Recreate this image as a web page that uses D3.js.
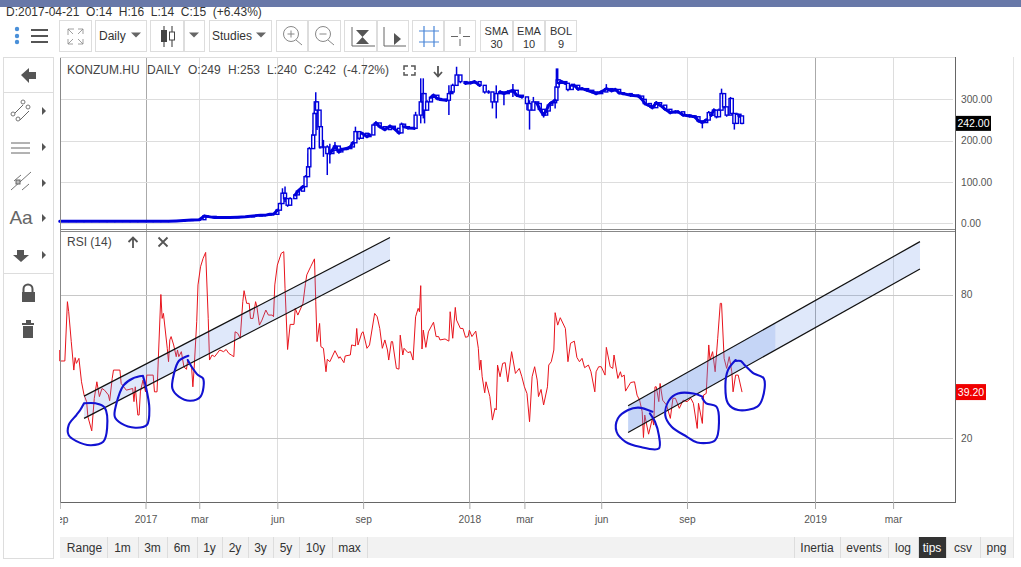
<!DOCTYPE html>
<html><head><meta charset="utf-8">
<script src="https://cdn.jsdelivr.net/npm/d3@7"></script>
<style>
html,body{margin:0;padding:0;background:#fff;overflow:hidden}
svg{display:block}
text{font-family:"Liberation Sans",Arial,sans-serif}
</style></head><body>
<svg id="c" width="1021" height="567"></svg>
<script>
// ---------- data ----------
const priceTicks=[0,100,200,300];
const rsiTicks=[20,80];
const tickSessions=[-67,0,42,103,170,253,296,356,423,523,584];
const tickLabels=["sep","2017","mar","jun","sep","2018","mar","jun","sep","2019","mar"];
const yearLabels=["2017","2018","2019"];
const priceSessions=[-67,-60,-54,-48,-42,-36,-30,-24,-18,-12,
-6,0,6,12,18,24,30,36,42,46,
48,54,60,66,72,78,84,90,94,97,
100,103,105,107,109,111,113,117,119,123,
125,127,128,131,132,133,134,136,137,139,
142,144,146,148,151,153,157,160,162,164,
167,169,173,175,178,180,183,187,191,194,
198,200,202,205,210,211,215,217,218,220,
223,225,228,230,235,237,239,240,243,246,
250,254,257,261,265,268,271,274,277,280,
283,287,290,294,298,300,303,306,308,311,
313,315,317,320,321,322,323,325,328,330,
333,335,338,341,345,349,352,356,360,364,
367,370,373,379,385,388,390,394,396,399,
402,406,410,414,416,420,425,429,432,435,
438,440,442,444,446,448,450,452,454,457,
458,460,462,464,466];
const priceClose=[5,5,5,5,5,5,5,5,5,5,
5,5,5,5,5,6,7,8,9,18,
17,14,14,14,15,16,18,20,20,22,
22,32,48,73,60,44,60,69,78,89,
113,137,181,214,266,294,274,234,185,185,
169,169,177,187,173,179,181,185,195,222,
206,218,210,214,238,243,234,227,235,230,
219,240,234,231,230,262,294,314,274,294,
305,310,302,300,298,314,318,334,359,343,
339,340,343,334,318,318,294,314,318,314,
318,322,310,306,290,274,294,290,276,262,
272,286,292,298,330,347,339,343,339,324,
334,334,325,326,322,318,314,318,326,321,
324,316,314,310,308,300,290,284,280,292,
286,276,268,270,270,262,260,258,248,244,
250,268,262,274,258,274,314,282,262,302,
266,242,264,260,242];
const priceHigh=[7,7,7,7,7,7,7,7,7,7,
7,7,7,7,7,8,9,10,11,21,
19,16,16,16,17,18,20,22,22,24,
24,34,50,85,89,52,63,72,81,92,
117,169,185,226,270,317,294,258,234,202,
189,193,181,197,177,183,185,189,199,234,
210,222,214,218,242,247,238,231,239,234,
223,244,238,235,234,270,351,351,302,298,
309,314,306,304,302,334,322,338,379,347,
343,344,347,338,322,322,298,334,322,318,
322,337,314,310,298,298,306,294,280,270,
276,290,296,302,375,375,343,347,343,328,
338,338,329,330,326,322,318,322,337,325,
328,320,318,314,312,304,294,288,284,296,
290,280,272,274,274,266,264,262,252,248,
254,272,266,278,262,278,326,286,266,306,
270,246,268,264,253];
const priceLow=[3,3,3,3,3,3,3,3,3,3,
3,3,3,3,3,4,5,6,7,13,
13,12,12,12,13,14,16,18,18,20,
20,30,46,64,52,40,57,66,75,86,
93,125,173,193,250,230,226,181,181,161,
117,145,173,177,169,175,177,181,191,206,
202,214,206,210,222,239,230,223,231,226,
215,236,230,227,226,234,242,254,242,290,
301,306,298,296,294,262,314,330,343,339,
335,336,339,330,314,314,278,254,314,286,
314,306,306,302,274,227,282,286,272,256,
268,282,288,278,326,326,335,339,335,320,
330,330,321,322,318,314,310,314,318,317,
320,312,310,306,304,296,286,280,276,288,
282,272,264,266,266,258,256,254,244,230,
246,264,258,270,254,270,286,278,258,274,
262,227,260,256,240];
const rsiSessions=[-67,-67,-63,-61,-60,-58,-56,-55,-54,-52,-50,-48,-46,-45,-42,-40,-38,-36,-34,-32,
-29,-28,-26,-25,-20,-19,-15,-10,-9,-8,-6,-5,-4,-2,0,1,6,7,9,12,
13,14,17,18,19,20,22,24,25,26,28,30,32,33,36,37,38,40,41,43,
45,47,49,50,52,54,58,61,63,65,67,69,70,72,74,76,77,79,81,82,
84,86,87,89,91,94,96,99,100,101,103,106,108,109,111,113,116,117,119,123,
125,126,129,132,133,134,136,137,139,141,142,144,148,151,152,155,156,160,161,164,
165,166,169,170,173,175,179,181,183,185,187,189,190,192,193,196,198,199,201,202,
205,207,209,211,213,214,215,216,217,219,221,225,227,229,230,234,237,238,240,242,
243,246,248,250,252,253,255,258,260,261,262,263,265,266,269,271,273,274,275,277,
279,281,283,286,289,290,292,294,296,298,300,302,304,306,307,309,311,314,315,317,
319,320,322,324,328,330,332,335,337,339,341,343,346,348,351,352,354,356,359,360,
363,365,366,369,371,372,374,375,379,382,384,386,388,389,390,393,396,397,398,399,
401,402,404,407,410,412,414,417,420,423,426,428,431,432,435,436,438,440,441,443,
445,447,449,450,452,454,456,458,459,461,463,466];
const rsiValues=[56.8,52.2,52.2,77,72.8,60.3,48.4,53.6,51.2,53.3,43.5,38,35.2,28.9,23,36.6,43.5,37.3,40.7,40,
38,35.6,44.9,48.4,48.4,42.8,40,40.7,35.2,41.4,29.6,29.6,39.3,44.2,39.3,46.3,46.3,39.3,39.3,80,
70,72.1,57.5,51.9,61,62.4,58.9,54,56.8,54,56.1,49.8,48.7,52.6,49.8,41.4,49.1,68.6,84,91.6,
95.1,97.6,70,52.6,54.7,54,56.8,56.1,57,55.4,54.7,54,64.4,63.8,61.7,77,81.6,76.3,76.3,70,
70,77,74.9,67.2,69.3,73.5,71.4,71.4,70.7,84,92.3,97.2,97.9,82.6,57,67.5,67.5,74.2,71.4,76.3,
84.7,88.2,91.6,94.9,77,60.3,67.9,58.2,57.5,47.7,52.9,51.9,56.5,53.3,54,51.5,54.3,54.7,58.9,58.5,
65.8,58.9,64,64.4,57.5,58.9,72.1,70.7,65.8,57.5,61,56.8,52.6,60.3,60.3,49.1,48.8,63,54.7,57.5,
55.7,56.1,52.6,70.7,74.2,72.8,83.7,57.2,65.1,57.9,64.4,68.4,62.4,62.4,61,61.4,60.5,72.8,61.7,74.6,
69.3,65.8,65.8,62.1,62.4,65.1,62.4,64.7,57.5,48.4,52.6,45.6,38.9,43.5,37.3,27.5,32.4,31.7,50.5,45.6,
51.2,51.5,43.5,56.1,47,47.7,49.1,45.6,41.4,38.6,26.8,45.6,49.8,44.2,37.3,40.3,33.8,41.4,50.5,51.9,
56.8,72.4,67.2,70.3,65.8,51.9,59.6,60.5,53.7,51.9,53.3,49.4,50.5,47.7,39.3,47.7,49.8,49.8,46.3,57.9,
49.8,49.1,54.7,44.9,47.7,45.6,46.3,39.6,43.2,43.5,37.9,35.8,31,20.2,29.6,21.6,28.2,25.4,41.4,41.4,
35.2,42.8,35.8,33.8,28.2,36.6,36.6,32.4,35.8,35.2,36.6,34.5,24,34.5,26.1,38,38.6,58.9,52.6,56.1,
47.7,61.7,76.3,76.3,53.3,49.1,54,47.7,39.3,46.3,46.3,39.2];
// trend channels [session, rsi]
const channelLeftUpper=[[-48,37.5],[191,103.8]];
const channelLeftLower=[[-48,28.2],[191,94.4]];
const channelRightUpper=[[377,33.5],[605,102.1]];
const channelRightLower=[[377,22.3],[605,90.7]];
const channelRightInner=[[377,33.5],[492,68.1],[492,56.8],[377,22.3]];
// hand drawn rings [session, rsi]
const ring1=[[-48,34.5],[-39,34.5],[-32,32.8],[-30,24],[-33,18.4],[-43,17],[-54,18.7],[-60,21.2],[-60,25.4],[-54,29.6],[-51,31.7],[-48,34.5]];
const ring2=[[-2,46],[-10,44.9],[-17,42.1],[-23,33.8],[-24,28.9],[-19,26.1],[-8,24.3],[1,25.4],[3,32.4],[0,42.1],[-2,46]];
const ring3=[[33.5,54.4],[26,52.2],[22,46.3],[21,40.7],[26,37.3],[35,35.6],[43,37.3],[45,44.9],[41,46.3],[36,49.8],[33,52.6]];
const ring4=[[396,31],[385,32.7],[377,31.7],[369,28.2],[368,22.6],[375,18.4],[386,16.3],[401,15.6],[401,21.2],[398,26.8],[394,30.3]];
const ring5=[[435,37.3],[428,38.6],[416,38.6],[409,35.8],[406,29.6],[411,24.7],[423,20.5],[431,18.1],[445,19.1],[448,26.8],[446,33.1],[438,34.5],[435,36.6]];
const ring6=[[461,52.6],[455,48.4],[453,42.1],[455,34.5],[463,31.7],[478,33.1],[482,36.6],[483,44.9],[475,47],[472,48.4],[468,50.5],[465,52.2],[461,52.2]];
const lastPrice=242, lastRsi=39.2;
const rangeLabels=["Range","1m","3m","6m","1y","2y","3y","5y","10y","max"];
const toolLabels=["Inertia","events","log","tips","csv","png"];
const titleParts=["KONZUM.HU","DAILY","O:249","H:253","L:240","C:242","(-4.72%)"];

// ---------- scales ----------
const svg=d3.select("#c");
const L=60,R=955,GREY="#555",BLUE="#0000dc";
const x=d3.scaleLinear().domain([0,523]).range([145.5,815]);
const yP=d3.scaleLinear().domain([0,300]).range([223.4,99.4]);
const yR=d3.scaleLinear().domain([20,80]).range([438,294.5]);

const defs=svg.append("defs");
defs.append("clipPath").attr("id","xclip").append("rect").attr("x",L).attr("y",500).attr("width",R-L).attr("height",40);

// ---------- page chrome ----------
svg.append("rect").attr("width",1021).attr("height",7).attr("fill","#6878a8");
svg.append("text").attr("x",6).attr("y",16).attr("font-size",12).attr("fill","#333").attr("xml:space","preserve")
  .text("D:2017-04-21  O:14  H:16  L:14  C:15  (+6.43%)");

const btn=(x0,x1,y0=20,y1=52)=>svg.append("rect").attr("x",x0+.5).attr("y",y0+.5).attr("width",x1-x0-1).attr("height",y1-y0-1).attr("fill","#fff").attr("stroke","#ddd");
[[59,92],[95,147],[150,184],[184,205],[209,272],[276,308],[308,341],[344,377],[377,409],[412,444],[444,476],[480,513],[513,545],[545,577]].forEach(b=>btn(b[0],b[1]));
const tri=(cx,cy,w=5,c="#666")=>svg.append("path").attr("d",`M${cx-w},${cy-2.5}h${2*w}l${-w},${w}z`).attr("fill",c);
const ui=(d,c="#555",w=1,f="none")=>svg.append("path").attr("d",d).attr("stroke",c).attr("stroke-width",w).attr("fill",f);
[29,36,42].forEach(cy=>svg.append("circle").attr("cx",17).attr("cy",cy).attr("r",2.2).attr("fill","#4a90d9"));
ui("M31,30h17M31,36h17M31,42h17","#555",2);
ui("M68,29l6,0M68,29l0,6M68,29l5,5 M83,29l-5,0M83,29l0,5M83,29l-5,5 M68,44l5,0M68,44l0,-5M68,44l5,-5 M83,44l-5,0M83,44l0,-5M83,44l-5,-5","#888",.8);
const btext=(t,cx,cy,fs=12,c="#333",a="middle")=>svg.append("text").attr("x",cx).attr("y",cy).attr("font-size",fs).attr("fill",c).attr("text-anchor",a).text(t);
btext("Daily",99,40,12,"#333","start"); tri(136,35);
ui("M164,26v21M172,26v21","#333",1); svg.append("rect").attr("x",161).attr("y",30).attr("width",6).attr("height",12).attr("fill","#444");
svg.append("rect").attr("x",169.5).attr("y",32).attr("width",5).attr("height",8).attr("fill","#fff").attr("stroke","#444");
tri(194,35);
btext("Studies",212,40,12,"#333","start"); tri(261,35);
[[291,true],[323,false]].forEach(([cx,plus])=>{
  svg.append("circle").attr("cx",cx).attr("cy",34).attr("r",7.5).attr("fill","none").attr("stroke","#888");
  ui(`M${cx+5},${40}l6,5 M${cx-3.5},34h7`+(plus?` M${cx},30.5v7`:""),"#888",1);
});
ui("M352,27v19h23","#666",1); svg.append("path").attr("d","M356,30h13l-6.5,7zM356,44h13l-6.5,-7z").attr("fill","#555");
ui("M384,27v19h22","#666",1); svg.append("path").attr("d","M394,33l7,6l-7,6z").attr("fill","#555");
ui("M424,26v21M434,26v21M419,31h20M419,42h20","#4a86d8",1.2);
ui("M460,27v7M460,39v7M451,36.5h7M463,36.5h7","#666",1);
[["SMA","30",496.5],["EMA","10",529],["BOL","9",561]].forEach(d=>{btext(d[0],d[2],35,11);btext(d[1],d[2],48,11);});

// left toolbar
svg.append("rect").attr("x",3.5).attr("y",57.5).attr("width",50).attr("height",501).attr("fill","#fff").attr("stroke","#ddd");
ui("M3,92.5h50M3,273.5h50","#ddd",1);
svg.append("path").attr("d","M21,75l8,-7v4h7v7h-7v4z").attr("fill","#555");
ui("M14,114l9,-9M20,120l9,-9","#666",1);
[[13,114],[23,102],[18,119],[28,107]].forEach(p=>svg.append("circle").attr("cx",p[0]).attr("cy",p[1]).attr("r",2).attr("fill","#fff").attr("stroke","#777"));
ui("M11,143h19M11,148h19M11,153h19","#666",1);
ui("M11,190l20,-18M14,181l7,-6M22,190l7,-6","#666",.9);
svg.append("rect").attr("x",16).attr("y",180).attr("width",4).attr("height",4).attr("fill","#bbb").attr("stroke","#666");
btext("Aa",21,224,19,"#666");
svg.append("path").attr("d","M17,250h7v5h5l-8,7l-8,-7h4z").attr("fill","#555");
[111,147,183,218,255].forEach(cy=>svg.append("path").attr("d",`M42,${cy-4}l4,4l-4,4z`).attr("fill","#555"));
ui("M23.5,292v-3a4.5,4.5 0 0 1 9,0v3","#555",2);
svg.append("rect").attr("x",22).attr("y",292).attr("width",13).attr("height",10).attr("fill","#555");
svg.append("path").attr("d","M22,323h12v2h-12zM26,320h5v3h-5zM23,326h10v12h-10z").attr("fill","#555");

// ---------- grid ----------
const grid=svg.append("g");
grid.selectAll("line.v").data(tickSessions.slice(1)).join("line")
  .attr("x1",d=>Math.round(x(d))+.5).attr("x2",d=>Math.round(x(d))+.5).attr("y1",58).attr("y2",502)
  .attr("stroke",(d,i)=>yearLabels.includes(tickLabels[i+1])?"#aaa":"#ddd");
grid.selectAll("line.p").data(priceTicks).join("line").attr("class","p")
  .attr("x1",L).attr("x2",953).attr("y1",d=>Math.round(yP(d))+.5).attr("y2",d=>Math.round(yP(d))+.5).attr("stroke","#ddd");
grid.selectAll("line.r").data(rsiTicks).join("line").attr("class","r")
  .attr("x1",L).attr("x2",953).attr("y1",d=>Math.round(yR(d))+.5).attr("y2",d=>Math.round(yR(d))+.5).attr("stroke","#c8c8c8");

// ---------- price candles ----------
const pIdx=d3.range(priceSessions.length);
const price=svg.append("g");
price.selectAll("line").data(pIdx).join("line")
  .attr("x1",i=>x(priceSessions[i])).attr("x2",i=>x(priceSessions[i]))
  .attr("y1",i=>yP(priceHigh[i])).attr("y2",i=>yP(priceLow[i]))
  .attr("stroke",BLUE).attr("stroke-width",1.5);
price.selectAll("rect").data(pIdx.slice(1)).join("rect")
  .attr("x",i=>x(priceSessions[i])-1.5).attr("width",3)
  .attr("y",i=>Math.min(yP(priceClose[i]),yP(priceClose[i-1])))
  .attr("height",i=>Math.abs(yP(priceClose[i])-yP(priceClose[i-1])))
  .attr("fill","#fff").attr("stroke",BLUE).attr("stroke-width",1.4);
price.append("path").attr("fill","none").attr("stroke",BLUE).attr("stroke-width",3).attr("stroke-linejoin","round").attr("stroke-linecap","round")
  .attr("d",d3.line().x(i=>x(priceSessions[i])).y(i=>yP(priceClose[i])).defined(i=>i===0||Math.abs(priceClose[i]-priceClose[i-1])<=14)(pIdx));

// ---------- RSI ----------
svg.append("path").attr("fill","none").attr("stroke","#e8141c").attr("stroke-width",1).attr("stroke-linejoin","round")
  .attr("d",d3.line().x((d,i)=>x(rsiSessions[i])).y(d=>yR(d))(rsiValues));

// channels
const pt=d=>[x(d[0]),yR(d[1])];
const band=(u,l)=>"M"+[pt(u[0]),pt(u[1]),pt(l[1]),pt(l[0])].join("L")+"Z";
const FILL="rgba(95,140,230,0.2)";
svg.append("path").attr("d",band(channelLeftUpper,channelLeftLower)).attr("fill",FILL);
svg.append("path").attr("d",band(channelRightUpper,channelRightLower)).attr("fill",FILL);
svg.append("path").attr("d","M"+channelRightInner.map(pt).join("L")+"Z").attr("fill",FILL);
const ln=d3.line().x(d=>x(d[0])).y(d=>yR(d[1]));
[channelLeftUpper,channelLeftLower,channelRightUpper,channelRightLower].forEach(c=>
  svg.append("path").attr("d",ln(c)).attr("stroke","#111").attr("stroke-width",1.2).attr("fill","none"));
// rings
const rl=d3.line().x(d=>x(d[0])).y(d=>yR(d[1])).curve(d3.curveCatmullRom.alpha(.5));
[ring1,ring2,ring3,ring4,ring5,ring6].forEach(r=>
  svg.append("path").attr("d",rl(r)).attr("fill","none").attr("stroke","#1212d2").attr("stroke-width",2.1).attr("stroke-linecap","round"));

// ---------- frames & axes ----------
ui(`M${L+.5},57v445`,"#888",1);
ui(`M${L},57.5H${R}`,"#ddd",1);
ui(`M${L},229.5H${R}M${L},231.5H${R}`,"#888",1);
ui(`M${L},502.5H${R+1}`,"#666",1);
ui(`M${R+.5},57V503`,"#666",1);
ui("M1013.5,57V558","#e4e4e4",1);

const style=g=>{g.select(".domain").remove();g.selectAll("line").attr("stroke","#aaa");g.selectAll("text").attr("fill","#555").attr("font-size",10.2).attr("font-family","Liberation Sans, Arial, sans-serif");};
svg.append("g").attr("clip-path","url(#xclip)").append("g").attr("transform","translate(0,502)")
  .call(d3.axisBottom(x).tickValues(tickSessions).tickFormat((d,i)=>tickLabels[i]).tickSize(7).tickPadding(7)).call(style)
  .selectAll("text").attr("dy","0.71em");
svg.append("g").attr("transform",`translate(${R},0)`)
  .call(d3.axisRight(yP).tickValues(priceTicks).tickFormat(d3.format(".2f")).tickSize(0).tickPadding(6)).call(style);
svg.append("g").attr("transform",`translate(${R},0)`)
  .call(d3.axisRight(yR).tickValues(rsiTicks).tickFormat(d3.format("d")).tickSize(0).tickPadding(6)).call(style);

// last value tags
svg.append("rect").attr("x",956).attr("y",yP(lastPrice)-7.5).attr("width",35).attr("height",15).attr("fill","#000");
svg.append("text").attr("x",973.5).attr("y",yP(lastPrice)+3.7).attr("text-anchor","middle").attr("font-size",10.5).attr("fill","#fff").text(d3.format(".2f")(lastPrice));
svg.append("rect").attr("x",956).attr("y",yR(lastRsi)-8).attr("width",30).attr("height",16).attr("fill","#f00000");
svg.append("text").attr("x",971).attr("y",yR(lastRsi)+3.7).attr("text-anchor","middle").attr("font-size",10.5).attr("fill","#fff").text(d3.format(".2f")(lastRsi));

// pane titles
const titleX=[67,147,188,228,267,304,343];
svg.append("text").attr("y",74).attr("font-size",12).attr("fill","#444")
  .selectAll("tspan").data(titleParts).join("tspan").attr("x",(d,i)=>titleX[i]).text(d=>d);
ui("M404,70v-4h4M411,66h4v4M404,72v3h4M415,72v3h-4","#555",1.5);
ui("M438,66v10M434,72l4,4.5l4,-4.5","#555",1.8);
svg.append("text").attr("x",67).attr("y",246).attr("font-size",12).attr("fill","#444").text("RSI (14)");
ui("M133,248v-10M128.5,242l4.5,-4.5l4.5,4.5","#555",1.8);
ui("M158.5,237.5l9,9M167.5,237.5l-9,9","#555",1.8);

// ---------- bottom bar ----------
svg.append("rect").attr("x",60).attr("y",537).attr("width",953).attr("height",21).attr("fill","#f2f2f2");
const rangeEdges=[60,107,138,167,197,222,248,273,299,332,367];
rangeLabels.forEach((t,i)=>{
  btext(t,(rangeEdges[i]+rangeEdges[i+1])/2+(i==0?1:0),552,12,"#333");
  ui(`M${rangeEdges[i+1]+.5},537v21`,"#ddd",1);
});
const toolEdges=[794,840,888,918,946,980,1013];
svg.append("rect").attr("x",918).attr("y",537).attr("width",28).attr("height",21).attr("fill","#333");
toolLabels.forEach((t,i)=>{
  btext(t,(toolEdges[i]+toolEdges[i+1])/2,552,12,t==="tips"?"#fff":"#333");
  ui(`M${toolEdges[i]+.5},537v21`,"#ddd",1);
});
</script>
</body></html>
